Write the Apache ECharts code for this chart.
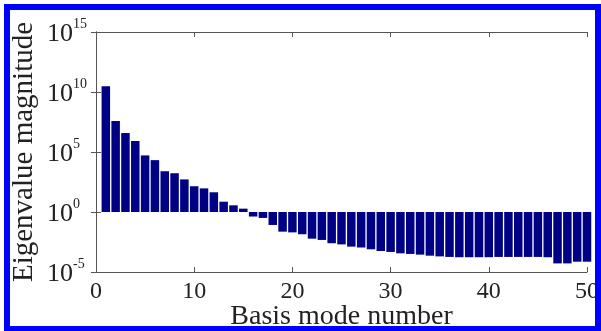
<!DOCTYPE html>
<html>
<head>
<meta charset="utf-8">
<script src="https://cdn.jsdelivr.net/npm/echarts@6/dist/echarts.min.js"></script>
<style>
html,body{margin:0;padding:0;background:#fff;}
#chart{width:601px;height:331px;}
</style>
</head>
<body>
<div id="chart"></div>
<script>
// Basis mode numbers 1..50
const modes = [1,2,3,4,5,6,7,8,9,10,11,12,13,14,15,16,17,18,19,20,21,22,23,24,25,26,27,28,29,30,31,32,33,34,35,36,37,38,39,40,41,42,43,44,45,46,47,48,49,50];
// Eigenvalue magnitudes
const eigenvalues = [
  3.0e10, 3.8e7, 3.8e6, 8.3e5, 5.2e4, 2.1e4, 2.5e3, 1.7e3, 520, 140,
  93, 44, 7.2, 3.6, 1.9, 0.42, 0.32, 0.083, 0.023, 0.020,
  0.014, 0.006, 0.0047, 0.0025, 0.0020, 0.0013, 0.0011, 7.8e-4, 5.6e-4, 4.7e-4,
  3.6e-4, 3.2e-4, 2.8e-4, 2.3e-4, 2.0e-4, 1.8e-4, 1.7e-4, 1.7e-4, 1.7e-4, 1.7e-4,
  1.8e-4, 1.8e-4, 1.8e-4, 1.8e-4, 1.8e-4, 1.7e-4, 5.2e-5, 5.2e-5, 7.2e-5, 7.2e-5
];
const xTicks = [0, 10, 20, 30, 40, 50];
const yTickExponents = [-5, 0, 5, 10, 15];

const chart = echarts.init(document.getElementById('chart'), null, {renderer: 'canvas'});
const serif = '"Liberation Serif", "DejaVu Serif", serif';
const axisColor = '#555';

const yLabel = {
  align: 'left',
  margin: 49,
  formatter: function (v) {
    const e = Math.round(Math.log10(v));
    return yTickExponents.indexOf(e) >= 0 ? '{b|10}{s|' + e + '}' : '';
  },
  rich: {
    b: {fontFamily: serif, fontSize: 26, color: '#222', lineHeight: 30, verticalAlign: 'bottom'},
    s: {fontFamily: serif, fontSize: 14, color: '#222', lineHeight: 30, verticalAlign: 'top'}
  }
};

chart.setOption({
  animation: false,
  backgroundColor: '#fff',
  graphic: [{
    type: 'rect',
    shape: {x: 7, y: 7, width: 591, height: 322},
    style: {fill: null, stroke: '#0000ff', lineWidth: 6},
    silent: true,
    z: 100
  }],
  grid: {left: 96, right: 14, top: 32, bottom: 59, containLabel: false, outerBoundsMode: 'none'},
  xAxis: [{
    type: 'value', min: 0, max: 50, interval: 10,
    name: 'Basis mode number',
    nameLocation: 'middle', nameGap: 31, nameMoveOverlap: false,
    nameTextStyle: {fontFamily: serif, fontSize: 28, color: '#222'},
    axisLine: {show: true, lineStyle: {color: axisColor}},
    axisTick: {show: true, inside: true, length: 5, lineStyle: {color: axisColor}},
    axisLabel: {fontFamily: serif, fontSize: 24, color: '#222', margin: 8,
      formatter: function (v) { return xTicks.indexOf(v) >= 0 ? String(v) : ''; }},
    splitLine: {show: false}
  }, {
    type: 'value', min: 0, max: 50, interval: 10, position: 'top',
    axisLine: {show: true, lineStyle: {color: axisColor}},
    axisTick: {show: true, inside: true, length: 5, lineStyle: {color: axisColor}},
    axisLabel: {show: false},
    splitLine: {show: false}
  }],
  yAxis: [{
    type: 'log', logBase: 10, min: 1e-5, max: 1e15, interval: 5,
    name: 'Eigenvalue magnitude',
    nameLocation: 'middle', nameGap: 57, nameMoveOverlap: false,
    nameTextStyle: {fontFamily: serif, fontSize: 29, color: '#222'},
    axisLine: {show: true, lineStyle: {color: axisColor}},
    axisTick: {show: true, inside: true, length: 5, lineStyle: {color: axisColor}},
    axisLabel: yLabel,
    splitLine: {show: false}
  }, {
    type: 'log', logBase: 10, min: 1e-5, max: 1e15, interval: 5, position: 'right',
    axisLine: {show: true, lineStyle: {color: axisColor}},
    axisTick: {show: true, inside: true, length: 5, lineStyle: {color: axisColor}},
    axisLabel: {show: false},
    splitLine: {show: false}
  }],
  series: [{
    type: 'bar',
    xAxisIndex: 0, yAxisIndex: 0,
    data: modes.map((m, i) => [m, eigenvalues[i]]),
    barWidth: 8.5,
    itemStyle: {color: '#000085'},
    clip: true
  }]
});
</script>
</body>
</html>
